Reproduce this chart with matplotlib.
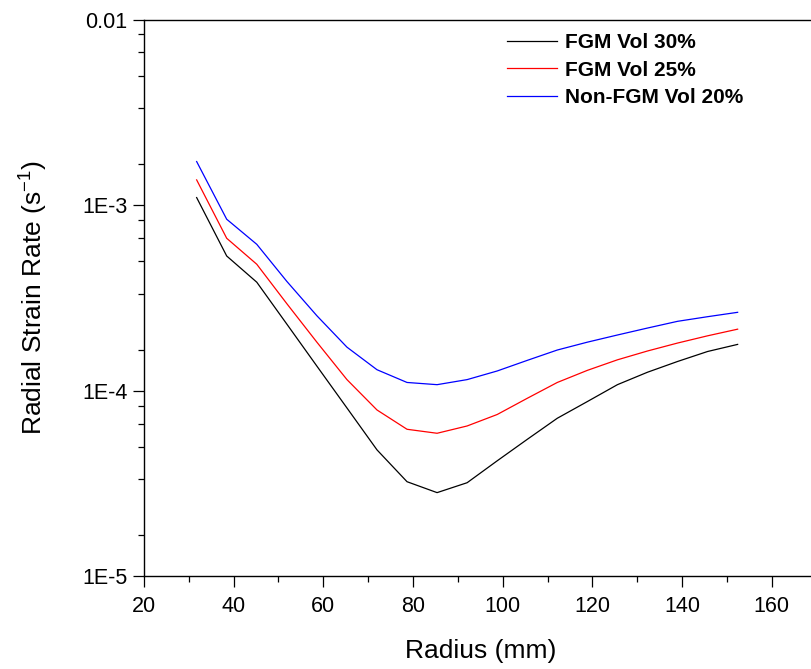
import numpy as np
import matplotlib.pyplot as plt
from matplotlib.ticker import FixedLocator, FixedFormatter, NullFormatter

# radius positions (mm), 1.25 in to 6 in
radius = [31.75, 38.45, 45.16, 51.86, 58.56, 65.27, 71.97, 78.67, 85.37, 92.07,
          98.78, 105.48, 112.18, 118.89, 125.59, 132.29, 139.0, 145.7, 152.4]

fgm_30 = [1.10e-3, 5.33e-4, 3.85e-4, 2.29e-4, 1.36e-4, 8.09e-5, 4.81e-5, 3.24e-5, 2.83e-5, 3.20e-5,
          4.20e-5, 5.48e-5, 7.12e-5, 8.76e-5, 1.08e-4, 1.26e-4, 1.44e-4, 1.63e-4, 1.78e-4]
fgm_25 = [1.37e-3, 6.64e-4, 4.81e-4, 2.95e-4, 1.83e-4, 1.15e-4, 7.89e-5, 6.21e-5, 5.91e-5, 6.47e-5,
          7.46e-5, 9.12e-5, 1.11e-4, 1.29e-4, 1.47e-4, 1.64e-4, 1.81e-4, 1.98e-4, 2.15e-4]
non_fgm_20 = [1.72e-3, 8.41e-4, 6.16e-4, 3.89e-4, 2.54e-4, 1.72e-4, 1.30e-4, 1.11e-4, 1.08e-4, 1.15e-4,
              1.28e-4, 1.46e-4, 1.66e-4, 1.83e-4, 2.00e-4, 2.18e-4, 2.37e-4, 2.51e-4, 2.65e-4]

labels = ["FGM Vol 30%", "FGM Vol 25%", "Non-FGM Vol 20%"]
colors = ["#000000", "#ff0000", "#0000ff"]

y_ticks = [1e-5, 1e-4, 1e-3, 1e-2]
y_ticklabels = ["1E-5", "1E-4", "1E-3", "0.01"]

plt.rcParams['font.family'] = ['Liberation Sans', 'DejaVu Sans']
plt.rcParams['mathtext.fontset'] = 'custom'
plt.rcParams['mathtext.rm'] = 'Liberation Sans'
plt.rcParams['mathtext.default'] = 'regular'

fig = plt.figure(figsize=(8.12, 6.69), dpi=100)
ax = fig.add_axes([0.1773, 0.1383, 0.8283, 0.8323])

for ys, lab, c in zip([fgm_30, fgm_25, non_fgm_20], labels, colors):
    ax.plot(radius, ys, color=c, lw=0.9, label=lab)

ax.set_yscale('log')
ax.set_ylim(1e-5, 1e-2)
ax.set_xlim(20, 170)

# Origin-style minor ticks: linear steps of one sixth of the next decade
minor = []
for n in [-5, -4, -3]:
    for k in range(1, 6):
        v = 10.0 ** (n + 1) * k / 6
        if v > 10.0 ** n:
            minor.append(v)
ax.yaxis.set_major_locator(FixedLocator(y_ticks))
ax.yaxis.set_major_formatter(FixedFormatter(y_ticklabels))
ax.yaxis.set_minor_locator(FixedLocator(minor))
ax.yaxis.set_minor_formatter(NullFormatter())

ax.set_xticks(np.arange(20, 161, 20))
ax.set_xticks(np.arange(30, 171, 20), minor=True)

ax.tick_params(which='major', direction='out', length=8, width=0.9, labelsize=15.5)
ax.tick_params(axis='y', which='major', pad=4)
ax.tick_params(axis='x', which='major', pad=6)
ax.tick_params(which='minor', direction='out', length=4.3, width=0.9)
for s in ax.spines.values():
    s.set_linewidth(1.0)

ax.set_xlabel("Radius (mm)", fontsize=19, labelpad=16)
ax.set_ylabel("Radial Strain Rate (s$^{-1}$)", fontsize=19, labelpad=23)

leg = ax.legend(loc='upper left', bbox_to_anchor=(0.52, 1.0), frameon=False,
                prop={'weight': 'bold', 'size': 15}, handlelength=2.4,
                handletextpad=0.35, labelspacing=0.4, borderaxespad=0.25)

fig.savefig("out.png", dpi=100)
